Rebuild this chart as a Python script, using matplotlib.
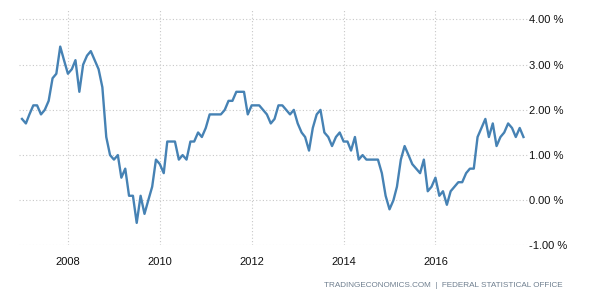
import matplotlib
matplotlib.use("Agg")
import matplotlib.pyplot as plt
import numpy as np
import pandas as pd

# Monthly inflation rate, Jan 2007 .. Dec 2017 (%)
start_month = "2007-01-01"
values = [
    1.8, 1.7, 1.9, 2.1, 2.1, 1.9, 2.0, 2.2, 2.7, 2.8, 3.4, 3.1,   # 2007
    2.8, 2.9, 3.1, 2.4, 3.0, 3.2, 3.3, 3.1, 2.9, 2.5, 1.4, 1.0,   # 2008
    0.9, 1.0, 0.5, 0.7, 0.1, 0.1, -0.5, 0.1, -0.3, 0.0, 0.3, 0.9, # 2009
    0.8, 0.6, 1.3, 1.3, 1.3, 0.9, 1.0, 0.9, 1.3, 1.3, 1.5, 1.4,   # 2010
    1.6, 1.9, 1.9, 1.9, 1.9, 2.0, 2.2, 2.2, 2.4, 2.4, 2.4, 1.9,   # 2011
    2.1, 2.1, 2.1, 2.0, 1.9, 1.7, 1.8, 2.1, 2.1, 2.0, 1.9, 2.0,   # 2012
    1.7, 1.5, 1.4, 1.1, 1.6, 1.9, 2.0, 1.5, 1.4, 1.2, 1.4, 1.5,   # 2013
    1.3, 1.3, 1.1, 1.4, 0.9, 1.0, 0.9, 0.9, 0.9, 0.9, 0.6, 0.1,   # 2014
    -0.2, 0.0, 0.3, 0.9, 1.2, 1.0, 0.8, 0.7, 0.6, 0.9, 0.2, 0.3,  # 2015
    0.5, 0.1, 0.2, -0.1, 0.2, 0.3, 0.4, 0.4, 0.6, 0.7, 0.7, 1.4,  # 2016
    1.6, 1.8, 1.4, 1.7, 1.2, 1.4, 1.5, 1.7, 1.6, 1.4, 1.6, 1.4,   # 2017
]
dates = pd.date_range(start_month, periods=len(values), freq="MS")

y_ticks = [-1, 0, 1, 2, 3, 4]
y_tick_labels = ["-1.00 %", "0.00 %", "1.00 %", "2.00 %", "3.00 %", "4.00 %"]
x_tick_years = [2008, 2010, 2012, 2014, 2016]
source_text = "TRADINGECONOMICS.COM  |  FEDERAL STATISTICAL OFFICE"

plt.rcParams["font.family"] = ["Liberation Sans", "DejaVu Sans"]

fig = plt.figure(figsize=(6, 3), dpi=100)
ax = fig.add_axes([0.031, 0.1817, 0.849, 0.785])

ax.plot(dates, values, color="#4682b4", linewidth=1.7, solid_joinstyle="round")

ax.set_xlim(pd.Timestamp("2006-12-05"), pd.Timestamp("2018-01-06"))
ax.set_ylim(-1, 4.21)

ax.set_yticks(y_ticks)
ax.set_yticklabels(y_tick_labels)
ax.yaxis.tick_right()
ax.set_xticks([pd.Timestamp(f"{y}-01-01") for y in x_tick_years])
ax.set_xticklabels([str(y) for y in x_tick_years])

ax.tick_params(axis="both", length=0, labelsize=8, colors="#111111")
ax.tick_params(axis="y", pad=1)
ax.tick_params(axis="x", pad=8)

ax.grid(True, color="#c8c8c8", linestyle=(0, (1, 2)), linewidth=0.8)
ax.set_axisbelow(True)
for s in ax.spines.values():
    s.set_visible(False)

fig.text(0.937, 0.047, source_text, ha="right", va="center",
         fontsize=5.9, color="#6f7f8f")

fig.savefig("out.png", dpi=100)
